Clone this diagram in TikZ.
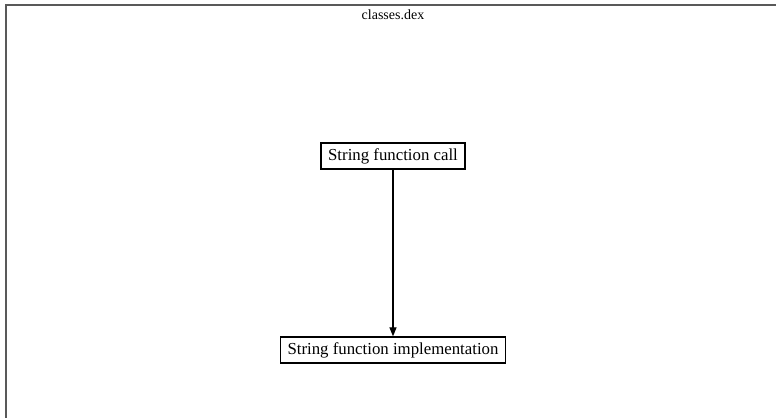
\documentclass[tikz,border=0pt]{standalone}
\usepackage{fontspec}
\setmainfont{Liberation Serif}
\usetikzlibrary{arrows.meta}
\begin{document}
\begin{tikzpicture}[x=1pt,y=-1pt,
  box/.style={draw,line width=1.3pt,fill=white,inner sep=0pt,minimum height=26pt,font=\fontsize{16.8}{19}\selectfont},
  link/.style={line width=1.2pt,-{Triangle[length=9pt,width=7pt]}}]
  \useasboundingbox (0,0) rectangle (776,418);
  % frame: top and left edges
  \draw[line width=1.6pt,black!65] (776,5) -- (6,5) -- (6,418);
  \node[font=\fontsize{14}{16}\selectfont] (title) at (393,15) {classes.dex};
  \node[box,minimum width=144pt] (call) at (393,156) {String function call};
  \node[box,minimum width=225pt] (impl) at (393,350) {String function implementation};
  \draw[link] (call) -- (impl);
\end{tikzpicture}
\end{document}
